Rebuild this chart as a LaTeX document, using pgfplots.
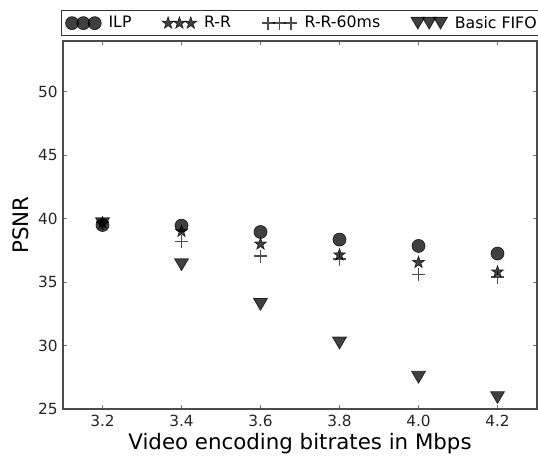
\documentclass[border=0pt]{standalone}
\usepackage{fontspec}
\setmainfont{DejaVu Sans}
\usepackage{pgfplots}
\pgfplotsset{compat=1.18}
\usetikzlibrary{calc}

% filled five-pointed star, matplotlib style
\pgfdeclareplotmark{fstar}{%
  \pgfpathmoveto{\pgfpointpolar{90}{\pgfplotmarksize}}%
  \foreach \a in {1,...,4}{%
    \pgfpathlineto{\pgfpointpolar{90+72*\a-36}{0.4\pgfplotmarksize}}%
    \pgfpathlineto{\pgfpointpolar{90+72*\a}{\pgfplotmarksize}}%
  }%
  \pgfpathlineto{\pgfpointpolar{54}{0.4\pgfplotmarksize}}%
  \pgfpathclose
  \pgfusepathqfillstroke
}
% downward triangle centred on its box
\pgfdeclareplotmark{tdown}{%
  \pgfpathmoveto{\pgfpoint{0pt}{-0.85\pgfplotmarksize}}%
  \pgfpathlineto{\pgfpoint{-\pgfplotmarksize}{0.85\pgfplotmarksize}}%
  \pgfpathlineto{\pgfpoint{\pgfplotmarksize}{0.85\pgfplotmarksize}}%
  \pgfpathclose
  \pgfusepathqfillstroke
}
\newcommand{\lgd}{\fontsize{11.8}{13}\selectfont}

\begin{document}
\begin{tikzpicture}
\begin{axis}[
  scale only axis,
  width=355.5pt, height=276pt,
  xmin=3.1, xmax=4.3,
  ymin=25, ymax=54,
  xtick={3.2,3.4,3.6,3.8,4.0,4.2},
  ytick={25,30,35,40,45,50},
  xticklabels={3.2,3.4,3.6,3.8,4.0,4.2},
  /pgf/number format/assume math mode=true,
  tick align=inside,
  major tick length=3pt,
  tick style={black!55, line width=0.6pt},
  axis line style={black!70, line width=1pt},
  every tick label/.append style={font=\fontsize{11.5}{13}\selectfont, text=black!85, inner sep=0pt},
  xticklabel style={anchor=base, yshift=-13.5pt},
  yticklabel style={anchor=east, xshift=-3.75pt},
  xlabel={Video encoding bitrates in Mbps},
  ylabel={PSNR},
  xlabel style={font=\fontsize{16}{19}\selectfont, at={(rel axis cs:0.5,0)}, anchor=base, yshift=-30.75pt, inner sep=0pt},
  ylabel style={font=\fontsize{16}{19}\selectfont, at={(rel axis cs:0,0.5)}, anchor=center, yshift=31.5pt, inner sep=0pt},
  legend columns=4,
  legend style={at={(rel axis cs:0,1)}, anchor=south west, xshift=-1.5pt, yshift=3.75pt,
    draw=black!80, line width=0.8pt, font=\lgd,
    inner xsep=3pt, inner ysep=2pt,
    /tikz/every odd column/.append style={column sep=3.5pt},
    /tikz/every even column/.append style={column sep=21pt}},
  legend cell align=left,
  legend image code/.code={%
    \draw[mark repeat=1, mark phase=1, #1] plot coordinates {(0pt,0pt) (8.5pt,0pt) (17pt,0pt)};},
]
\addplot[only marks, mark=*, mark size=4.9pt, mark options={black, opacity=0.75, line width=0.5pt}]
  coordinates {(3.2,39.5) (3.4,39.45) (3.6,38.95) (3.8,38.35) (4.0,37.85) (4.2,37.25)};
\addlegendentry{\lgd ILP}
\addplot[only marks, mark=fstar, mark size=4.7pt, mark options={black, opacity=0.75, line width=0.5pt}]
  coordinates {(3.2,39.65) (3.4,39.0) (3.6,38.0) (3.8,37.15) (4.0,36.55) (4.2,35.8)};
\addlegendentry{\lgd R-R}
\addplot[only marks, mark=+, mark size=4.9pt, mark options={black, opacity=0.7, line width=1.4pt}]
  coordinates {(3.2,39.7) (3.4,38.2) (3.6,37.05) (3.8,36.8) (4.0,35.6) (4.2,35.37)};
\addlegendentry{\lgd R-R-60ms}
\addplot[only marks, mark=tdown, mark size=5.25pt, mark options={black, opacity=0.75, line width=0.5pt}]
  coordinates {(3.2,39.6) (3.4,36.37) (3.6,33.24) (3.8,30.2) (4.0,27.5) (4.2,25.9)};
\addlegendentry{\lgd Basic FIFO}
\coordinate (sw) at (rel axis cs:0,0);
\coordinate (ne) at (rel axis cs:1,1);
\end{axis}
\pgfresetboundingbox
\useasboundingbox ($(sw)+(-47.25pt,-37.5pt)$) rectangle ($(ne)+(0.75pt,30.75pt)$);
\end{tikzpicture}
\end{document}
